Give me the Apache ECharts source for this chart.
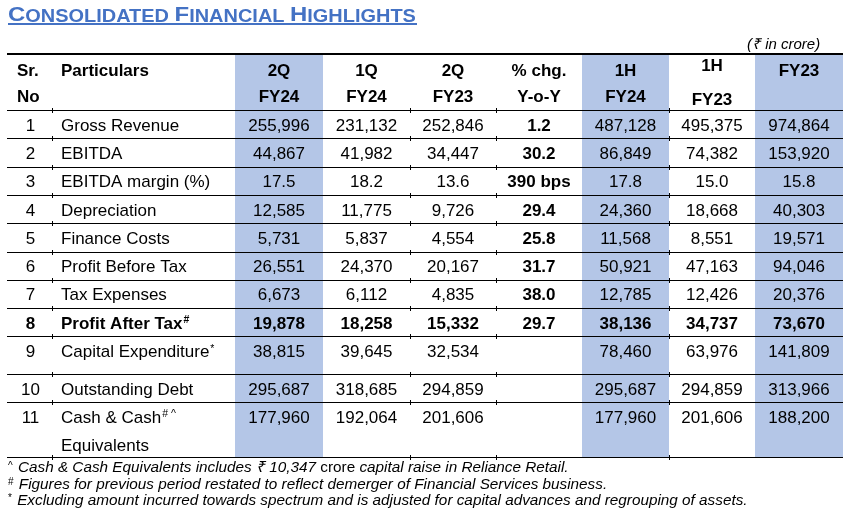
<!DOCTYPE html>
<html>
<head>
<meta charset="utf-8">
<script src="https://cdn.jsdelivr.net/npm/echarts@6/dist/echarts.min.js"></script>
<style>
html,body{margin:0;padding:0;background:#fff;}
#chart{width:853px;height:512px;}
</style>
</head>
<body>
<div id="chart"></div>
<script>
// ---------- DATA ----------
const columns = ['2Q\nFY24', '1Q\nFY24', '2Q\nFY23', '% chg.\nY-o-Y', '1H\nFY24', '1H\nFY23', 'FY23'];
const highlighted = ['2Q\nFY24', '1H\nFY24', 'FY23'];
const srNo = ['1', '2', '3', '4', '5', '6', '7', '8', '9', '10', '11'];
const particulars = ['Gross Revenue', 'EBITDA', 'EBITDA margin (%)', 'Depreciation', 'Finance Costs',
  'Profit Before Tax', 'Tax Expenses', 'Profit After Tax', 'Capital Expenditure', 'Outstanding Debt',
  'Cash & Cash\nEquivalents'];
const particularMarks = ['', '', '', '', '', '', '', '#', '*', '', '# ^'];
const boldRows = ['Profit After Tax'];
const q2fy24 = ['255,996', '44,867', '17.5', '12,585', '5,731', '26,551', '6,673', '19,878', '38,815', '295,687', '177,960'];
const q1fy24 = ['231,132', '41,982', '18.2', '11,775', '5,837', '24,370', '6,112', '18,258', '39,645', '318,685', '192,064'];
const q2fy23 = ['252,846', '34,447', '13.6', '9,726', '4,554', '20,167', '4,835', '15,332', '32,534', '294,859', '201,606'];
const yoy = ['1.2', '30.2', '390 bps', '29.4', '25.8', '31.7', '38.0', '29.7', '', '', ''];
const h1fy24 = ['487,128', '86,849', '17.8', '24,360', '11,568', '50,921', '12,785', '38,136', '78,460', '295,687', '177,960'];
const h1fy23 = ['495,375', '74,382', '15.0', '18,668', '8,551', '47,163', '12,426', '34,737', '63,976', '294,859', '201,606'];
const fy23 = ['974,864', '153,920', '15.8', '40,303', '19,571', '94,046', '20,376', '73,670', '141,809', '313,966', '188,200'];
const seriesValues = [q2fy24, q1fy24, q2fy23, yoy, h1fy24, h1fy23, fy23];

// ---------- LAYOUT (styles only) ----------
const colWidths = [45, 183, 88, 87, 86, 86, 87, 86, 88];
const rowHeights = [56, 28.3, 28.3, 28.3, 28.3, 28.3, 28.3, 28.3, 28.3, 37.6, 28, 55];
const FONT = 'Liberation Sans, Arial, sans-serif';
const SHADE = '#B4C6E7';
const colEdges = [0];
colWidths.forEach(w => colEdges.push(colEdges[colEdges.length - 1] + w));
const rowEdges = [0];
rowHeights.forEach(h => rowEdges.push(rowEdges[rowEdges.length - 1] + h));
const totalW = colEdges[colEdges.length - 1];
const totalH = rowEdges[rowEdges.length - 1];

const cellData = [];
for (let r = 0; r < srNo.length; r++) {
  for (let c = 0; c < columns.length + 2; c++) cellData.push([c, r + 1]);
}
const headerData = [[0, 0], [1, 0]];
columns.forEach((_, i) => headerData.push([i + 2, 0]));
const shadeData = highlighted.map(h => [columns.indexOf(h) + 2]);
const lineData = rowEdges.map((_, i) => [i]);

function supRich(size) {
  return {
    n: { fontSize: size, fontFamily: FONT, fontWeight: 'normal', lineHeight: 28 },
    b: { fontSize: size, fontFamily: FONT, fontWeight: 'bold', lineHeight: 28 },
    s: { fontSize: 10.5, fontFamily: FONT, fontWeight: 'normal', lineHeight: 10, padding: [0, 0, 7, 1] },
    sb: { fontSize: 10.5, fontFamily: FONT, fontWeight: 'bold', lineHeight: 10, padding: [0, 0, 7, 1] }
  };
}

const option = {
  animation: false,
  grid: { left: 7, right: 10, top: 54, bottom: 55 },
  xAxis: { type: 'value', min: 0, max: totalW, show: false },
  yAxis: { type: 'value', min: 0, max: totalH, inverse: true, show: false },
  graphic: [
    {
      type: 'text', x: 8, y: 2, scaleX: 1.14,
      style: {
        text: '{a|C}{b|ONSOLIDATED }{a|F}{b|INANCIAL }{a|H}{b|IGHLIGHTS}',
        fill: '#4472C4',
        rich: {
          a: { fontSize: 21, fontWeight: 'bold', fontFamily: FONT, fill: '#4472C4', verticalAlign: 'bottom', lineHeight: 24 },
          b: { fontSize: 17.5, fontWeight: 'bold', fontFamily: FONT, fill: '#4472C4', verticalAlign: 'bottom', lineHeight: 24 }
        }
      }
    },
    { type: 'rect', shape: { x: 8, y: 23, width: 409, height: 2 }, style: { fill: '#4472C4' } },
    {
      type: 'text', x: 747, y: 37,
      style: { text: '(₹ in crore)', fontSize: 15, fontStyle: 'italic', fontFamily: FONT, fill: '#000' }
    },
    {
      type: 'text', x: 8, y: 460,
      style: {
        text: '{s|^}{i| Cash & Cash Equivalents includes ₹ 10,347 }{n|crore }{i|capital raise in Reliance Retail.}\n' +
              '{s|#}{i| Figures for previous period restated to reflect demerger of Financial Services business.}\n' +
              '{s|*}{i| Excluding amount incurred towards spectrum and is adjusted for capital advances and regrouping of assets.}',
        rich: {
          i: { fontSize: 15.3, fontStyle: 'italic', fontFamily: FONT, fill: '#000', lineHeight: 16.3 },
          n: { fontSize: 15.3, fontFamily: FONT, fill: '#000', lineHeight: 16.3 },
          s: { fontSize: 10, fontFamily: FONT, fill: '#000', lineHeight: 10, verticalAlign: 'top', padding: [1, 1, 0, 0] }
        }
      }
    }
  ],
  series: [
    {
      type: 'custom', name: 'shade', data: shadeData, z: 1,
      renderItem: function (params, api) {
        const c = api.value(0);
        const p0 = api.coord([colEdges[c], 0]);
        const p1 = api.coord([colEdges[c + 1], totalH]);
        return { type: 'rect', shape: { x: p0[0], y: p0[1], width: p1[0] - p0[0], height: p1[1] - p0[1] }, style: { fill: SHADE } };
      }
    },
    {
      type: 'custom', name: 'lines', data: lineData, z: 3,
      renderItem: function (params, api) {
        const i = api.value(0);
        const a = api.coord([0, rowEdges[i]]);
        const b = api.coord([totalW, rowEdges[i]]);
        const y = Math.round(a[1]) + (i === 0 ? 0 : 0.5);
        const children = [{ type: 'line', shape: { x1: a[0], y1: y, x2: b[0], y2: y }, style: { stroke: '#000', lineWidth: i === 0 ? 2 : 1 } }];
        if (i > 0) {
          [1, 4, 5, 7].forEach(e => {
            const p = api.coord([colEdges[e], rowEdges[i]]);
            children.push({ type: 'rect', shape: { x: Math.round(p[0]), y: y - 2.5, width: 1, height: 5 }, style: { fill: '#000' } });
          });
        }
        return { type: 'group', children: children };
      }
    },
    {
      type: 'custom', name: 'header', data: headerData, z: 4,
      renderItem: function (params, api) {
        const c = api.value(0);
        const top = api.coord([0, rowEdges[0]])[1];
        let text, x, align = 'center', lh = 26, y = top + 4;
        if (c === 0) { text = 'Sr.\nNo'; x = api.coord([colEdges[0], 0])[0] + 10; align = 'left'; }
        else if (c === 1) { text = 'Particulars'; x = api.coord([colEdges[1], 0])[0] + 9; align = 'left'; }
        else {
          text = columns[c - 2];
          x = (api.coord([colEdges[c], 0])[0] + api.coord([colEdges[c + 1], 0])[0]) / 2;
          if (text === '1H\nFY23') { lh = 34; y = top - 5; }
        }
        return {
          type: 'text',
          style: { text: text, x: x, y: y, align: align, verticalAlign: 'top', lineHeight: lh,
            fontSize: 17, fontWeight: 'bold', fontFamily: FONT, fill: '#000' }
        };
      }
    },
    {
      type: 'custom', name: 'cells', data: cellData, z: 4,
      renderItem: function (params, api) {
        const c = api.value(0), r = api.value(1);
        const idx = r - 1;
        const top = api.coord([0, rowEdges[r]])[1];
        const bold = boldRows.indexOf(particulars[idx]) >= 0;
        let text, x, align = 'center', rich = null, weight = bold ? 'bold' : 'normal';
        if (c === 0) {
          text = srNo[idx];
          x = (api.coord([colEdges[0], 0])[0] + api.coord([colEdges[1], 0])[0]) / 2 + 1;
        } else if (c === 1) {
          const lines = particulars[idx].split('\n');
          const tag = bold ? 'b' : 'n';
          const stag = bold ? 'sb' : 's';
          const mark = particularMarks[idx];
          text = lines.map((l, k) => '{' + tag + '|' + l + '}' + (k === 0 && mark ? '{' + stag + '|' + mark + '}' : '')).join('\n');
          rich = supRich(17);
          x = api.coord([colEdges[1], 0])[0] + 9;
          align = 'left';
        } else {
          const col = c - 2;
          text = seriesValues[col][idx];
          if (columns[col] === '% chg.\nY-o-Y') weight = 'bold';
          x = (api.coord([colEdges[c], 0])[0] + api.coord([colEdges[c + 1], 0])[0]) / 2;
        }
        const style = { text: text, x: x, y: top + 2, align: align, verticalAlign: 'top', lineHeight: 28,
          fontSize: 17, fontWeight: weight, fontFamily: FONT, fill: '#000' };
        if (rich) style.rich = rich;
        return { type: 'text', style: style };
      }
    }
  ]
};

const chart = echarts.init(document.getElementById('chart'), null, { renderer: 'canvas' });
chart.setOption(option);
</script>
</body>
</html>
